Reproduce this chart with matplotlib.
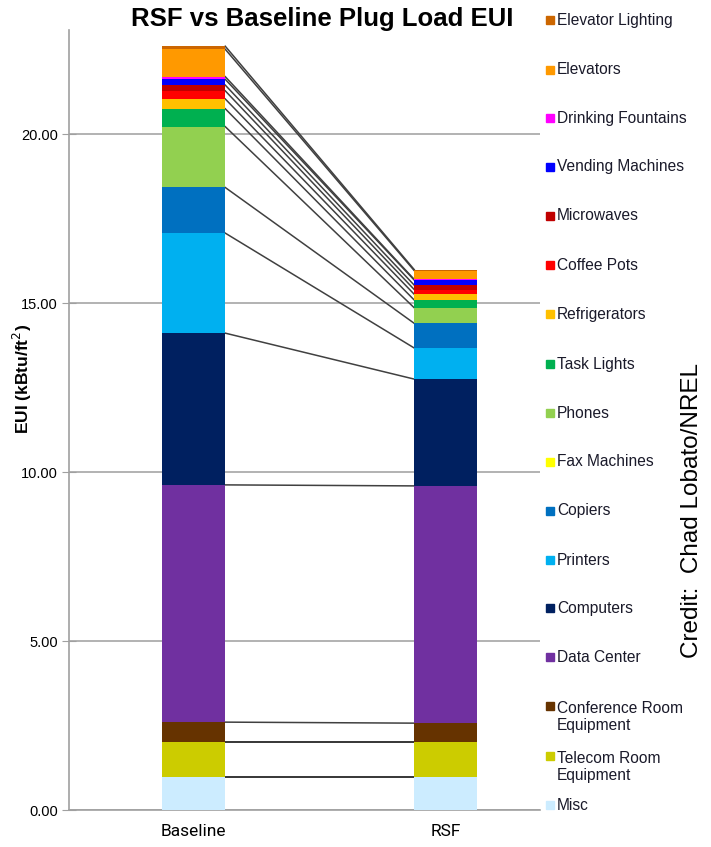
import matplotlib
matplotlib.use("Agg")
import matplotlib.pyplot as plt
import numpy as np
from matplotlib.ticker import FormatStrFormatter
from matplotlib.patches import Rectangle

plt.rcParams['font.family'] = ['Liberation Sans Narrow', 'Liberation Sans', 'DejaVu Sans']

scenarios = ["Baseline", "RSF"]
# bottom to top
categories = ["Misc", "Telecom Room\nEquipment", "Conference Room\nEquipment", "Data Center",
              "Computers", "Printers", "Copiers", "Fax Machines", "Phones", "Task Lights",
              "Refrigerators", "Coffee Pots", "Microwaves", "Vending Machines",
              "Drinking Fountains", "Elevators", "Elevator Lighting"]
baseline = [0.97, 1.05, 0.58, 7.02, 4.49, 2.96, 1.35, 0.0, 1.80, 0.53,
            0.29, 0.24, 0.17, 0.17, 0.08, 0.81, 0.09]
rsf = [0.97, 1.05, 0.55, 7.02, 3.16, 0.92, 0.73, 0.0, 0.46, 0.23,
       0.17, 0.14, 0.13, 0.15, 0.02, 0.26, 0.03]
colors = ["#CCECFF", "#CCCC00", "#663300", "#7030A0", "#002060", "#00B0F0", "#0070C0",
          "#FFFF00", "#92D050", "#00B050", "#FFC000", "#FF0000", "#C00000", "#0000FF",
          "#FF00FF", "#FF9900", "#CC6600"]
yticks = [0, 5, 10, 15, 20]

fig = plt.figure(figsize=(7.11, 8.47), dpi=100)
W, H = 711, 847
ax = fig.add_axes([69 / W, 1 - 810 / H, 471 / W, 780 / H])

x = np.arange(len(scenarios))
bw = 0.25
data = np.array([baseline, rsf])
bottoms = np.zeros(2)
for i, cat in enumerate(categories):
    ax.bar(x, data[:, i], bw, bottom=bottoms, color=colors[i], zorder=3, linewidth=0)
    bottoms = bottoms + data[:, i]

cum = np.cumsum(data, axis=1)
for i in range(len(categories)):
    if data[0, i] == 0 and i != len(categories) - 1:
        continue
    lc = "#000000" if i < 2 else "#404040"
    ax.plot([x[0] + bw / 2, x[1] - bw / 2], [cum[0, i], cum[1, i]], color=lc, lw=1.1, zorder=2)

ax.set_xlim(-0.495, 1.374)
ax.set_ylim(0, 23.08)
ax.set_yticks(yticks)
ax.yaxis.set_major_formatter(FormatStrFormatter('%.2f'))
ax.set_xticks(x)
ax.set_xticklabels(scenarios, fontsize=12.5, fontfamily=['Roboto', 'DejaVu Sans'])
ax.tick_params(axis='x', length=0, pad=10)
ax.tick_params(axis='y', direction='inout', length=10, color='#a0a0a0', labelsize=10.5, pad=3)
ax.grid(axis='y', color='#a6a6a6', lw=1.2, zorder=1)
for s in ['top', 'right']:
    ax.spines[s].set_visible(False)
for s in ['left', 'bottom']:
    ax.spines[s].set_color('#a0a0a0')
    ax.spines[s].set_linewidth(1.2)

fig.text(22 / W, 1 - 379 / H, "EUI (kBtu/ft$^2$)", rotation=90, ha='center', va='center',
         fontsize=12.5, fontweight='bold', fontfamily=['Liberation Sans', 'DejaVu Sans'])

fig.text(322 / W, 1 - 19 / H, "RSF vs Baseline Plug Load EUI", ha='center', va='center',
         fontsize=18.5, fontweight='bold', fontfamily=['Liberation Sans Narrow', 'Liberation Sans'])

# legend (top to bottom)
leg_y = [20, 70, 118, 167, 216, 265, 314, 364, 413, 462, 511, 560, 608, 657, 717, 767, 805]
for k, i in enumerate(range(len(categories) - 1, -1, -1)):
    yc = leg_y[k]
    lab = categories[i]
    nlines = lab.count("\n") + 1
    ytop = yc - (nlines - 1) * 11
    fig.patches.append(Rectangle((546 / W, 1 - (ytop + 4) / H), 8 / W, 8 / H,
                                 transform=fig.transFigure, color=colors[i], figure=fig))
    fig.text(557 / W, 1 - yc / H, lab, ha='left', va='center', fontsize=11.2,
             linespacing=1.15, color='#1a1a2a')

fig.text(692 / W, 1 - 511 / H, "Credit:  Chad Lobato/NREL", rotation=90, ha='center', va='center',
         fontsize=17.5, fontfamily=['Liberation Sans', 'DejaVu Sans'])

fig.savefig("out.png", dpi=100)
